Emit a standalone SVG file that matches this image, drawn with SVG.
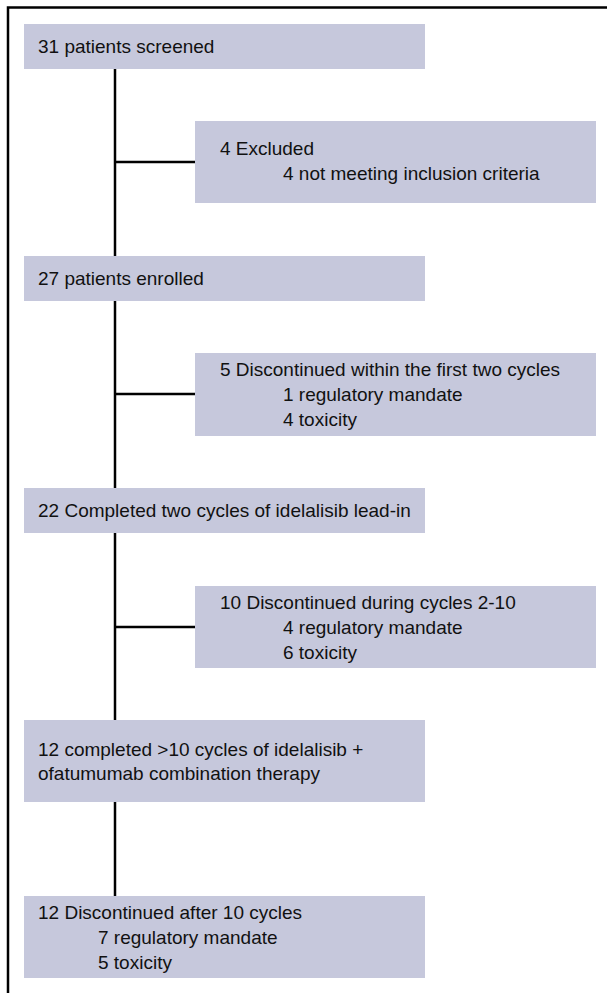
<svg xmlns="http://www.w3.org/2000/svg" width="607" height="993" viewBox="0 0 607 993">
<style>
.box{fill:#c6c8dc;}
.t{font-family:"Liberation Sans",Arial,Helvetica,sans-serif;font-size:19px;fill:#111;}
.ln{stroke:#000;stroke-width:2.5;fill:none;}
.fr{stroke:#000;stroke-width:2.5;fill:none;}
</style>
<rect width="607" height="993" fill="#fff"/>
<path class="fr" d="M8,993 V7.5 H607"/>
<g id="connectors">
<line class="ln" x1="115" y1="69" x2="115" y2="256"/>
<line class="ln" x1="115" y1="162" x2="195" y2="162"/>
<line class="ln" x1="115" y1="301" x2="115" y2="488"/>
<line class="ln" x1="115" y1="394" x2="195" y2="394"/>
<line class="ln" x1="115" y1="533" x2="115" y2="720"/>
<line class="ln" x1="115" y1="627" x2="195" y2="627"/>
<line class="ln" x1="115" y1="802" x2="115" y2="896"/>
</g>
<g id="n1"><rect class="box" x="24" y="24" width="401" height="45"/><text class="t" x="38" y="53">31 patients screened</text></g>
<g id="n2"><rect class="box" x="195" y="121" width="401" height="82"/><text class="t" x="220" y="155">4 Excluded</text><text class="t" x="283" y="180">4 not meeting inclusion criteria</text></g>
<g id="n3"><rect class="box" x="24" y="256" width="401" height="45"/><text class="t" x="38" y="285">27 patients enrolled</text></g>
<g id="n4"><rect class="box" x="195" y="353" width="401" height="83"/><text class="t" x="220" y="376">5 Discontinued within the first two cycles</text><text class="t" x="283" y="401">1 regulatory mandate</text><text class="t" x="283" y="426">4 toxicity</text></g>
<g id="n5"><rect class="box" x="24" y="488" width="401" height="45"/><text class="t" x="38" y="517">22 Completed two cycles of idelalisib lead-in</text></g>
<g id="n6"><rect class="box" x="195" y="586" width="401" height="82"/><text class="t" x="220" y="609">10 Discontinued during cycles 2-10</text><text class="t" x="283" y="634">4 regulatory mandate</text><text class="t" x="283" y="659">6 toxicity</text></g>
<g id="n7"><rect class="box" x="24" y="720" width="401" height="82"/><text class="t" x="38" y="756">12 completed &gt;10 cycles of idelalisib +</text><text class="t" x="38" y="780">ofatumumab combination therapy</text></g>
<g id="n8"><rect class="box" x="24" y="896" width="401" height="82"/><text class="t" x="38" y="919">12 Discontinued after 10 cycles</text><text class="t" x="98" y="944">7 regulatory mandate</text><text class="t" x="98" y="969">5 toxicity</text></g>
</svg>
